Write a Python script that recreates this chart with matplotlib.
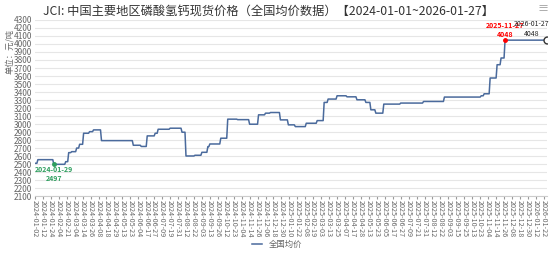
import numpy as np
import matplotlib.pyplot as plt

plt.rcParams['font.family'] = ['Noto Sans CJK SC', 'DejaVu Sans']

tick_labels = [
    "2024-01-02", "2024-01-12", "2024-01-24", "2024-02-04", "2024-02-21", "2024-03-04",
    "2024-03-14", "2024-03-26", "2024-04-08", "2024-04-18", "2024-04-29", "2024-05-13",
    "2024-05-23", "2024-06-04", "2024-06-17", "2024-06-27", "2024-07-09", "2024-07-19",
    "2024-07-31", "2024-08-12", "2024-08-22", "2024-09-03", "2024-09-13", "2024-09-26",
    "2024-10-12", "2024-10-23", "2024-11-04", "2024-11-14", "2024-11-26", "2024-12-06",
    "2024-12-18", "2024-12-30", "2025-01-10", "2025-01-22", "2025-02-08", "2025-02-19",
    "2025-03-03", "2025-03-13", "2025-03-25", "2025-04-07", "2025-04-17", "2025-04-28",
    "2025-05-13", "2025-05-23", "2025-06-05", "2025-06-17", "2025-06-27", "2025-07-09",
    "2025-07-21", "2025-07-31", "2025-08-12", "2025-08-22", "2025-09-03", "2025-09-15",
    "2025-09-25", "2025-10-13", "2025-10-23", "2025-11-04", "2025-11-14", "2025-11-26",
    "2025-12-08", "2025-12-18", "2025-12-30", "2026-01-12", "2026-01-22",
]
tick_step = 8
n_days = 516  # trading days 2024-01-02 .. 2026-01-27

# price changes: trading-day index where a new price starts, and the price
change_day = [0, 3, 19, 31, 34, 37, 42, 45, 49, 55, 59, 67, 99, 107, 113, 121, 124,
              136, 148, 152, 161, 168, 174, 176, 187, 194, 204, 216, 225, 232, 237,
              247, 255, 262, 273, 284, 291, 295, 304, 314, 324, 333, 338, 343, 351,
              368, 391, 412, 449, 452, 458, 465, 469, 473]
change_price = [2510, 2555, 2497, 2530, 2643, 2655, 2700, 2747, 2885, 2905, 2927, 2793,
                2735, 2720, 2852, 2885, 2935, 2948, 2898, 2601, 2610, 2647, 2718, 2751,
                2823, 3061, 3055, 2998, 3115, 3136, 3144, 3052, 2990, 2968, 3010, 3043,
                3270, 3312, 3353, 3340, 3303, 3270, 3178, 3136, 3249, 3262, 3282, 3337,
                3353, 3378, 3575, 3741, 3825, 4048]

seg_len = np.diff(change_day + [n_days])
price = np.repeat(change_price, seg_len)
days = np.arange(n_days)

min_i = int(np.argmin(price))
max_i = int(np.argmax(price))
last_i = n_days - 1
min_label = "2024-01-29"
max_label = "2025-11-27"
last_label = "2026-01-27"

fig = plt.figure(figsize=(5.54, 2.56), dpi=100)
ax = fig.add_axes([0.063, 0.234, 0.924, 0.688])

line_color = '#4a6a9c'
ax.plot(days, price, color=line_color, lw=1.1, label="全国均价")
ax.plot(last_i, price[last_i], 'o', ms=5, mfc='white', mec='#333333', mew=1)
ax.plot(min_i, price[min_i], 'o', ms=2.5, color='#2e9e5e')
ax.plot(max_i, price[max_i], 'o', ms=2.5, color='red')

ax.text(min_i, price[min_i] - 25, f"{min_label}\n{price[min_i]}", color='#2e9e5e',
        fontsize=5, fontweight='bold', ha='center', va='top', linespacing=1.3)
ax.text(max_i, price[max_i] + 25, f"{max_label}\n{price[max_i]}", color='red',
        fontsize=5, fontweight='bold', ha='center', va='bottom', linespacing=1.3)
ax.text(last_i - 15, price[last_i] + 25, f"{last_label}\n{price[last_i]}", color='#222222',
        fontsize=5, ha='center', va='bottom', linespacing=1.3)

ax.set_xlim(0, n_days - 1)
ax.set_ylim(2100, 4300)
ax.set_yticks(np.arange(2100, 4301, 100))
ax.set_xticks(np.arange(len(tick_labels)) * tick_step)
ax.set_xticklabels(tick_labels, rotation=-90, fontsize=5.2, color='#666666')
ax.tick_params(axis='y', labelsize=6, colors='#666666', length=0, pad=2)
ax.tick_params(axis='x', length=2, color='#999999', pad=1)
ax.grid(axis='y', color='#e6e6e6', lw=0.8)
ax.set_axisbelow(True)
for s in ['top', 'right', 'left']:
    ax.spines[s].set_visible(False)
ax.spines['bottom'].set_color('#cccccc')

fig.text(0.018, 0.80, "单位：元/吨", rotation=90, fontsize=6, color='#666666',
         ha='center', va='center')
fig.text(0.485, 0.958, "JCI: 中国主要地区磷酸氢钙现货价格（全国均价数据）【2024-01-01~2026-01-27】",
         fontsize=8.8, color='#333333', ha='center', va='center')
fig.text(0.99, 0.965, "≡", fontsize=8, color='#999999', ha='right', va='center')

fig.legend(loc='lower center', bbox_to_anchor=(0.5, 0.0), frameon=False, fontsize=6,
           handlelength=1.2, labelcolor='#666666')

fig.savefig("out.png", dpi=100)
